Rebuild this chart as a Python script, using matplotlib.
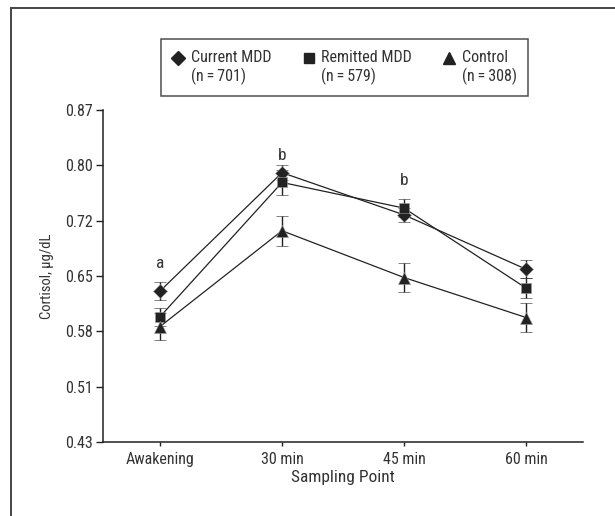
import matplotlib
matplotlib.use("Agg")
import matplotlib.pyplot as plt
from matplotlib.lines import Line2D
from matplotlib.legend_handler import HandlerLine2D
import numpy as np

plt.rcParams['font.family'] = ['Roboto Condensed', 'DejaVu Sans']

categories = ["Awakening", "30 min", "45 min", "60 min"]
current_mdd = [0.630, 0.787, 0.731, 0.659]
current_err = [0.012, 0.010, 0.009, 0.012]
remitted_mdd = [0.596, 0.774, 0.740, 0.634]
remitted_err = [0.012, 0.017, 0.012, 0.013]
control = [0.583, 0.710, 0.648, 0.595]
control_err = [0.018, 0.020, 0.019, 0.019]
series_labels = ["Current MDD\n(n\u2009=\u2009701)", "Remitted MDD\n(n\u2009=\u2009579)", "Control\n(n\u2009=\u2009308)"]
sig_letters = ["a", "b", "b", ""]
sig_y = [0.666, 0.810, 0.777, None]
ytick_vals = [0.43, 0.5033, 0.5767, 0.65, 0.7233, 0.7967, 0.87]
ytick_labels = ["0.43", "0.51", "0.58", "0.65", "0.72", "0.80", "0.87"]

dark = "#222222"
txt = "#333333"

fig = plt.figure(figsize=(6.15, 5.16), dpi=100)
ax = fig.add_axes([0.1675, 0.1434, 0.7805, 0.6434])
x = np.arange(len(categories))

markers = ["D", "s", "^"]
msizes = [7, 7, 8]
data = [(current_mdd, current_err), (remitted_mdd, remitted_err), (control, control_err)]
for (vals, errs), m, ms in zip(data, markers, msizes):
    ax.errorbar(x, vals, yerr=errs, fmt='-', color=dark, lw=0.9, marker=m,
                markersize=ms, markerfacecolor=dark, markeredgecolor='#999999',
                markeredgewidth=0.4, ecolor=dark, elinewidth=1.0, capsize=4.3,
                capthick=1.0)

for xi, s, yv in zip(x, sig_letters, sig_y):
    if s:
        ax.text(xi, yv, s, ha='center', va='center', fontsize=12.5, color=txt)

ax.set_xlim(-0.467, 3.467)
ax.set_ylim(0.43, 0.87)
ax.set_xticks(x)
ax.set_xticklabels(categories, fontsize=11.5, color=txt)
ax.set_yticks(ytick_vals)
ax.set_yticklabels(ytick_labels, fontsize=11.5, color=txt)
ax.tick_params(axis='y', length=5, width=1, color=dark, pad=2)
ax.tick_params(axis='x', length=3, width=1, color=dark, pad=4)
for sp in ['top', 'right']:
    ax.spines[sp].set_visible(False)
for sp in ['left', 'bottom']:
    ax.spines[sp].set_color(dark)
    ax.spines[sp].set_linewidth(1.1)
ax.set_xlabel("Sampling Point", fontsize=12.5, color=txt, labelpad=2)
ax.set_ylabel("Cortisol, \u00b5g/dL", fontsize=10.5, color=txt, labelpad=8)


class UpHandler(HandlerLine2D):
    def create_artists(self, legend, orig_handle, xdescent, ydescent, width,
                       height, fontsize, trans):
        arts = super().create_artists(legend, orig_handle, xdescent, ydescent,
                                      width, height, fontsize, trans)
        for a in arts:
            a.set_ydata(np.asarray(a.get_ydata()) + 0.62 * fontsize)
        return arts


handles = [Line2D([], [], linestyle='none', marker=m, markersize=ms, color=dark)
           for m, ms in zip(markers, [7, 7, 8])]
leg = fig.legend(handles, series_labels, loc='upper left', ncol=3,
                 bbox_to_anchor=(0.2618, 0.8236, 0.5967, 0.1008), mode='expand',
                 fontsize=11.5, frameon=True, fancybox=False, edgecolor=dark,
                 handlelength=0.8, handletextpad=0.4, borderpad=0.68,
                 columnspacing=1.0, borderaxespad=0,
                 handler_map={Line2D: UpHandler()})
leg.get_frame().set_linewidth(1.1)
for t in leg.get_texts():
    t.set_color(txt)
    t.set_linespacing(1.22)

# outer frame (top and left)
fig.add_artist(Line2D([11/615, 1.0], [1 - 8/516, 1 - 8/516], transform=fig.transFigure,
                      color='#444444', lw=1.4))
fig.add_artist(Line2D([11/615, 11/615], [0, 1 - 8/516], transform=fig.transFigure,
                      color='#444444', lw=1.4))

fig.savefig("out.png", dpi=100)
